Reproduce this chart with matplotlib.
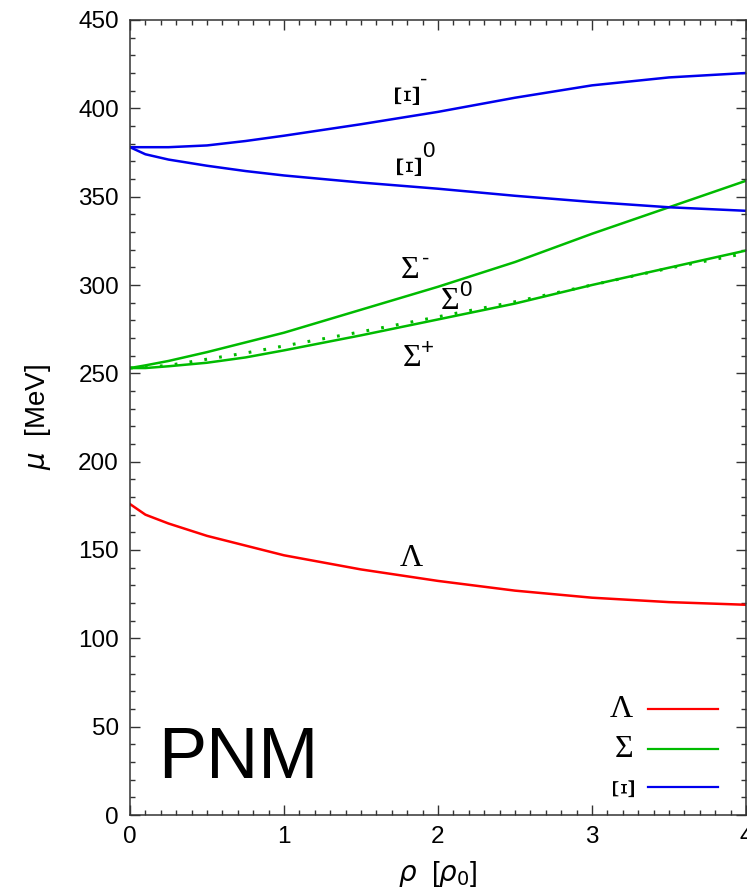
import matplotlib
matplotlib.use("Agg")
import matplotlib.pyplot as plt
from matplotlib.ticker import MultipleLocator

# density grid (units of rho_0)
rho = [0.0, 0.1, 0.25, 0.5, 0.75, 1.0, 1.5, 2.0, 2.5, 3.0, 3.5, 4.0]

# hyperon chemical potentials in pure neutron matter [MeV]
mu_lambda = [176, 170, 165, 158, 152.5, 147, 139, 132.5, 127, 123, 120.5, 119]
mu_sigma_minus = [253, 254.5, 257, 262, 267.5, 273, 286, 299, 313, 329, 344, 359]
mu_sigma_zero = [253, 253.5, 254.5, 258, 261.5, 265.5, 273.5, 282, 290.5, 300, 309.5, 318]
mu_sigma_plus = [253, 253, 254, 256, 259, 263, 271.5, 280.5, 289.5, 300, 309.8, 319.5]
mu_xi_minus = [378, 378, 378, 379, 381.5, 384.5, 391, 398, 406, 413, 417.5, 420]
mu_xi_zero = [378, 374, 371, 367.5, 364.5, 362, 358, 354.5, 350.5, 347, 344, 342]

legend_names = ["Λ", "Σ", "Ξ"]
legend_colors = ["#ff0000", "#00bb00", "#0000ee"]

RED, GREEN, BLUE = legend_colors

fig = plt.figure(figsize=(7.47, 8.91), dpi=100)
ax = fig.add_axes([130 / 747, 76 / 891, 616 / 747, 795 / 891])

lw = 1.8
ax.plot(rho, mu_lambda, color=RED, lw=lw)
ax.plot(rho, mu_sigma_minus, color=GREEN, lw=lw)
ax.plot(rho, mu_sigma_plus, color=GREEN, lw=lw)
ax.plot(rho, mu_sigma_zero, color=GREEN, lw=2.2, ls=(0, (0.9, 4.0)))
ax.plot(rho, mu_xi_minus, color=BLUE, lw=lw)
ax.plot(rho, mu_xi_zero, color=BLUE, lw=lw)

ax.set_xlim(0, 4)
ax.set_ylim(0, 450)
ax.xaxis.set_major_locator(MultipleLocator(1))
ax.xaxis.set_minor_locator(MultipleLocator(0.1))
ax.yaxis.set_major_locator(MultipleLocator(50))
ax.yaxis.set_minor_locator(MultipleLocator(10))
ax.tick_params(which="both", direction="in", top=True, right=True,
               width=1.0, colors="#333333", labelcolor="black")
ax.tick_params(which="major", length=7, labelsize=17.5, pad=8)
ax.tick_params(which="minor", length=3.5)
for lab in ax.get_xticklabels() + ax.get_yticklabels():
    lab.set_family("Liberation Sans")
for sp in ax.spines.values():
    sp.set_linewidth(1.1)
    sp.set_color("#333333")

ax.set_ylabel(r"$\mu$  [MeV]", fontsize=20, family="Liberation Sans", labelpad=18)
ax.set_xlabel(r"$\rho$  [$\rho_0$]", fontsize=20, family="Liberation Sans", labelpad=8)

# curve labels: Greek base letter plus a sans superscript
greek = "Liberation Serif"
sup_font = "Liberation Sans"


def label(x, y, base, sup=None, dx=11, dy=8, rot=0, size=23):
    ax.text(x, y, base, fontsize=size, family=greek, ha="center", va="center",
            rotation=rot, rotation_mode="anchor")
    if sup:
        ax.annotate(sup, (x, y), xytext=(dx, dy), textcoords="offset points",
                    fontsize=16, family=sup_font, ha="center", va="center")


label(1.818, 408.6, "Ξ", "-", dx=10, dy=9, rot=90, size=25)
label(1.825, 368.8, "Ξ", "0", dx=12.5, dy=8.5, rot=90, size=25)
label(1.818, 308.4, "Σ", "-", dx=11, dy=8)
label(2.078, 290.4, "Σ", "0", dx=11, dy=8.5)
label(1.830, 258.4, "Σ", "+", dx=11, dy=7.5)
label(1.830, 145.4, "Λ")

ax.text(0.046, 0.047, "PNM", transform=ax.transAxes, fontsize=52,
        family="Liberation Sans", ha="left", va="baseline")

# key in the lower right corner
rows = [0.1333, 0.0830, 0.0352]
for name, color, yy in zip(legend_names, legend_colors, rows):
    rot = 90 if name == "Ξ" else 0
    ax.text(0.817 if rot == 0 else 0.805, yy, name, transform=ax.transAxes,
            fontsize=23, family=greek, ha="right" if rot == 0 else "center",
            va="center", rotation=rot, rotation_mode="anchor")
    ax.plot([0.841, 0.9545], [yy, yy], transform=ax.transAxes, color=color,
            lw=1.6, clip_on=False)

fig.savefig("out.png", dpi=100)
